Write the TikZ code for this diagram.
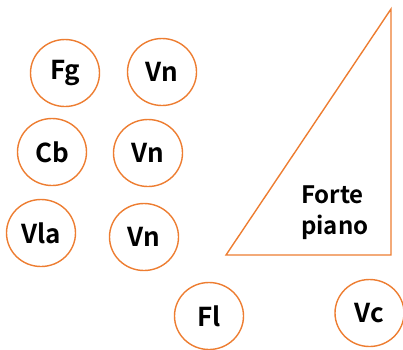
\documentclass[tikz,border=0pt]{standalone}
\usepackage{fontspec}
\newfontfamily\labfont{Noto Sans CJK JP}[BoldFont={* Bold}]
\usetikzlibrary{shapes.geometric}
\definecolor{seatline}{HTML}{ED7D31}
\tikzset{
  seat/.style={ellipse, draw=seatline, line width=1.4pt, inner sep=0pt,
    minimum width=69pt, minimum height=67pt,
    font=\labfont\bfseries\fontsize{26}{30}\selectfont},
  pianolabel/.style={align=left, inner sep=0pt,
    font=\labfont\bfseries\fontsize{24}{31}\selectfont}
}
\begin{document}
\begin{tikzpicture}[x=1pt,y=-1pt]
  \useasboundingbox (0,0) rectangle (403,349);
  % orchestra seats
  \node[seat] (fg)  at (65,73)   {Fg};
  \node[seat] (vn1) at (162,72)  {Vn};
  \node[seat] (cb)  at (52,152)  {Cb};
  \node[seat] (vn2) at (148,153) {Vn};
  \node[seat] (vla) at (41,233)  {Vla};
  \node[seat] (vn3) at (144,237) {Vn};
  \node[seat] (fl)  at (209,316) {Fl};
  \node[seat] (vc)  at (369.5,313) {Vc};
  % fortepiano
  \draw[seatline, line width=1.4pt, line join=miter]
    (226,255) -- (391,255) -- (391,9) -- cycle;
  \node[pianolabel, anchor=west] (fp) at (301,213) {Forte\\piano};
\end{tikzpicture}
\end{document}
